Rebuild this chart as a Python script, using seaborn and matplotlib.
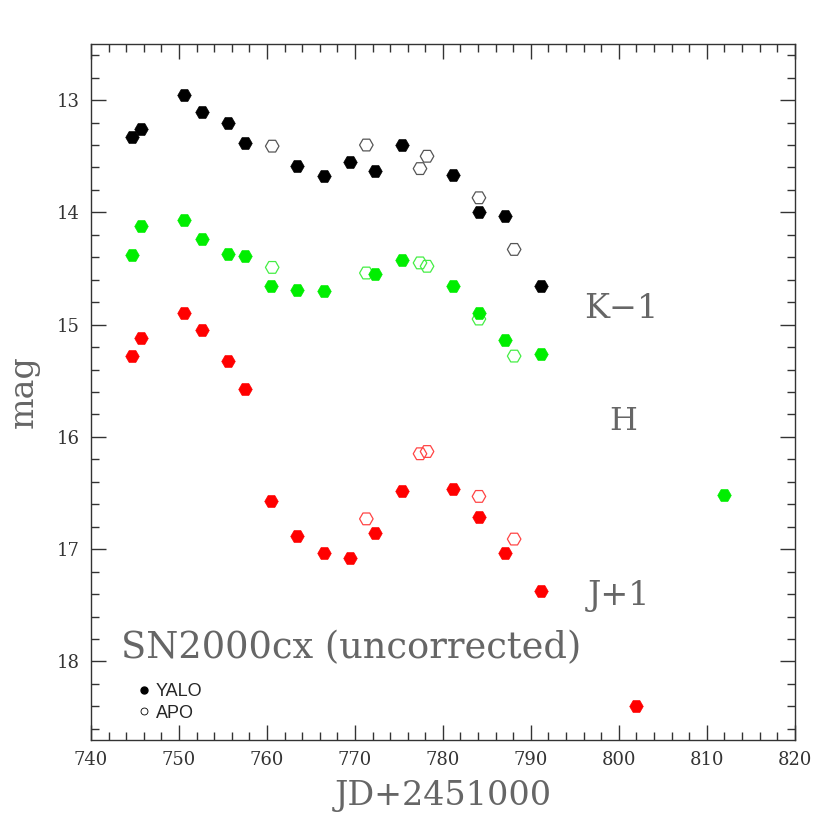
import matplotlib
matplotlib.use("Agg")
import matplotlib.pyplot as plt
from matplotlib.lines import Line2D
from matplotlib.ticker import MultipleLocator
import seaborn as sns

# YALO (filled) and APO (open) photometry
k_yalo_jd = [744.7, 745.7, 750.6, 752.6, 755.6, 757.5, 763.4, 766.5, 769.4,
             772.3, 775.3, 781.2, 784.1, 787.1, 791.1]
k_yalo_mag = [13.33, 13.26, 12.95, 13.11, 13.20, 13.38, 13.59, 13.68, 13.55,
              13.63, 13.40, 13.67, 14.00, 14.03, 14.66]
k_apo_jd = [760.6, 771.3, 777.4, 778.2, 784.1, 788.1]
k_apo_mag = [13.41, 13.40, 13.61, 13.50, 13.87, 14.33]

h_yalo_jd = [744.7, 745.7, 750.6, 752.6, 755.6, 757.5, 760.5, 763.4, 766.5,
             772.3, 775.3, 781.2, 784.1, 787.1, 791.1, 812.0]
h_yalo_mag = [14.38, 14.12, 14.07, 14.24, 14.37, 14.39, 14.66, 14.69, 14.70,
              14.55, 14.42, 14.66, 14.90, 15.14, 15.26, 16.52]
h_apo_jd = [760.6, 771.3, 777.4, 778.2, 784.1, 788.1]
h_apo_mag = [14.49, 14.54, 14.45, 14.48, 14.95, 15.28]

j_yalo_jd = [744.7, 745.7, 750.6, 752.6, 755.6, 757.5, 760.5, 763.4, 766.5,
             769.4, 772.3, 775.3, 781.2, 784.1, 787.1, 791.1, 801.9]
j_yalo_mag = [15.28, 15.12, 14.90, 15.05, 15.32, 15.57, 16.57, 16.88, 17.03,
              17.08, 16.86, 16.48, 16.46, 16.71, 17.03, 17.37, 18.40]
j_apo_jd = [771.3, 777.4, 778.2, 784.1, 788.1]
j_apo_mag = [16.73, 16.15, 16.13, 16.53, 16.91]

sns.set_style("ticks")
plt.rcParams["font.family"] = ["DejaVu Serif"]

fig = plt.figure(figsize=(8.3, 8.3), dpi=100)
ax = fig.add_axes([0.1096, 0.1084, 0.848, 0.8386])

bands = [
    (k_yalo_jd, k_yalo_mag, k_apo_jd, k_apo_mag, "black", "#555555"),
    (h_yalo_jd, h_yalo_mag, h_apo_jd, h_apo_mag, "#00ee00", "#44ee44"),
    (j_yalo_jd, j_yalo_mag, j_apo_jd, j_apo_mag, "red", "#ff4444"),
]
for yj, ym, aj, am, c, oc in bands:
    sns.scatterplot(x=yj, y=ym, ax=ax, marker="H", s=95, color=c,
                    edgecolor=c, linewidth=0.5, zorder=3)
    sns.scatterplot(x=aj, y=am, ax=ax, marker="H", s=95, facecolors="none",
                    edgecolor=oc, linewidth=0.9, zorder=2)

ax.set_xlim(740, 820)
ax.set_ylim(18.7, 12.5)
ax.xaxis.set_major_locator(MultipleLocator(10))
ax.xaxis.set_minor_locator(MultipleLocator(2))
ax.yaxis.set_major_locator(MultipleLocator(1))
ax.yaxis.set_minor_locator(MultipleLocator(0.2))
ax.tick_params(which="both", direction="in", top=True, right=True,
               color="#333333", labelsize=13, labelcolor="#333333", pad=8)
ax.tick_params(which="major", length=11, width=1)
ax.tick_params(which="minor", length=6, width=1)
for sp in ax.spines.values():
    sp.set_color("#333333")
    sp.set_linewidth(1)

ax.set_xlabel("JD+2451000", fontsize=24, color="#666666", labelpad=8)
ax.set_ylabel("mag", fontsize=24, color="#666666", labelpad=12)

ax.text(796.0, 14.86, "K\u22121", fontsize=24, color="#666666", va="center")
ax.text(798.9, 15.86, "H", fontsize=23, color="#666666", va="center")
ax.text(796.5, 17.42, "J+1", fontsize=24, color="#666666", va="center")
ax.text(743.4, 17.88, "SN2000cx (uncorrected)", fontsize=26.5,
        color="#666666", va="center")

handles = [
    Line2D([], [], marker="o", ls="none", color="black", markersize=5),
    Line2D([], [], marker="o", ls="none", markerfacecolor="none",
           markeredgecolor="black", markersize=5, markeredgewidth=0.6),
]
leg = ax.legend(handles, ["YALO", "APO"], loc="upper left",
                bbox_to_anchor=(0.04, 0.105), frameon=False,
                prop={"family": "Liberation Sans", "size": 13},
                handletextpad=0.15, labelspacing=0.25, handlelength=1)

fig.savefig("out.png", dpi=100)
